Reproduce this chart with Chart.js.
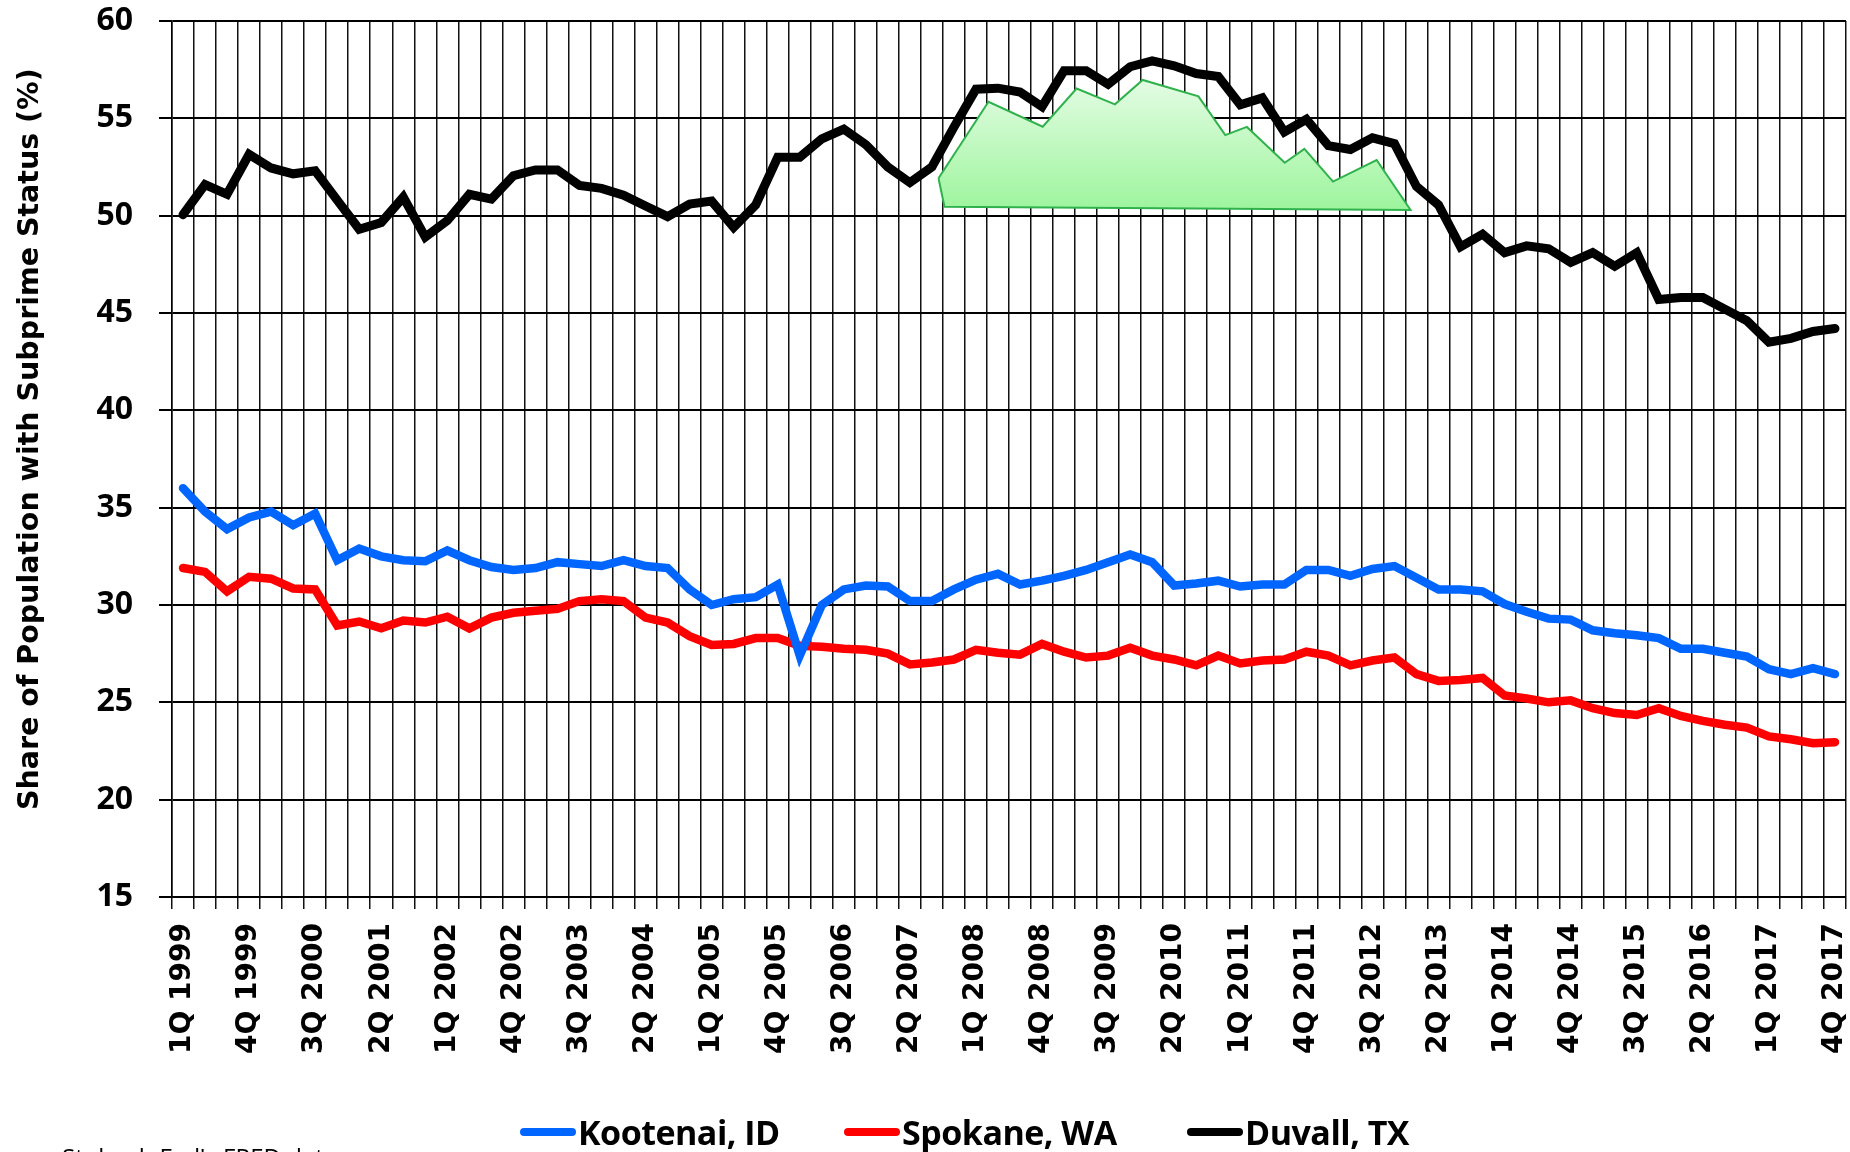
<!DOCTYPE html>
<html>
<head>
<meta charset="utf-8">
<title>Subprime share</title>
<script src="https://cdn.jsdelivr.net/npm/chart.js@4.4.1/dist/chart.umd.min.js"></script>
<style>
  html, body { margin: 0; padding: 0; background: #fff; overflow: hidden; }
  #wrap { position: relative; width: 1850px; height: 1152px; }
  #legend { position: absolute; left: 0; top: 0; }
  .item { position: absolute; top: 1115px; display: flex; align-items: center; height: 34px;
          font: 700 34px "Open Sans", sans-serif; line-height: 34px; color: #000; white-space: nowrap;
          letter-spacing: -0.5px; }
  .bar { width: 56px; height: 8px; border-radius: 4px; margin-right: 2px; }
  #note { position: absolute; left: 62px; top: 1145px; font: 24px "Open Sans", sans-serif; line-height: 1; color: #000; }
</style>
</head>
<body>
<div id="wrap">
  <canvas id="subprimeChart" width="1850" height="1152"></canvas>
  <div id="legend"></div>
  <div id="note">Stolen b Fed's FRED data</div>
</div>
<script>
/* ================= DATA ================= */
const years = [1999, 2000, 2001, 2002, 2003, 2004, 2005, 2006, 2007, 2008,
               2009, 2010, 2011, 2012, 2013, 2014, 2015, 2016, 2017];
const quarters = ["1Q", "2Q", "3Q", "4Q"];

const kootenai = [
  36.0, 34.8, 33.9, 34.5, 34.8, 34.1, 34.7, 32.3, 32.9, 32.5,
  32.3, 32.25, 32.8, 32.3, 31.95, 31.8, 31.9, 32.2, 32.1, 32.0,
  32.3, 32.0, 31.9, 30.8, 30.0, 30.3, 30.4, 31.05, 27.4, 30.0,
  30.8, 31.0, 30.95, 30.2, 30.2, 30.8, 31.3, 31.6, 31.05, 31.25,
  31.5, 31.8, 32.2, 32.6, 32.2, 31.0, 31.1, 31.25, 30.95, 31.05,
  31.05, 31.8, 31.8, 31.5, 31.85, 32.0, 31.4, 30.8, 30.8, 30.7,
  30.05, 29.65, 29.3, 29.25, 28.7, 28.55, 28.45, 28.3, 27.75, 27.75,
  27.55, 27.35, 26.7, 26.45, 26.75, 26.45
];

const spokane = [
  31.9, 31.7, 30.7, 31.45, 31.35, 30.85, 30.8, 28.95, 29.15, 28.8,
  29.2, 29.1, 29.4, 28.8, 29.35, 29.6, 29.7, 29.8, 30.2, 30.3,
  30.2, 29.35, 29.1, 28.4, 27.95, 28.0, 28.3, 28.3, 27.9, 27.85,
  27.75, 27.7, 27.5, 26.95, 27.05, 27.2, 27.7, 27.55, 27.45, 28.0,
  27.6, 27.3, 27.4, 27.8, 27.4, 27.2, 26.9, 27.4, 27.0, 27.15,
  27.2, 27.6, 27.4, 26.9, 27.15, 27.3, 26.45, 26.1, 26.15, 26.25,
  25.35, 25.2, 25.0, 25.1, 24.7, 24.45, 24.35, 24.7, 24.3, 24.05,
  23.85, 23.7, 23.25, 23.1, 22.9, 22.95
];

const duvall = [
  50.05, 51.6, 51.1, 53.15, 52.45, 52.15, 52.3, 50.8, 49.3, 49.65,
  50.95, 48.9, 49.75, 51.1, 50.85, 52.05, 52.35, 52.35, 51.55, 51.4,
  51.05, 50.5, 49.95, 50.6, 50.75, 49.4, 50.55, 53.0, 53.0, 53.95,
  54.45, 53.65, 52.5, 51.7, 52.5, 54.55, 56.5, 56.55, 56.35, 55.6,
  57.45, 57.45, 56.75, 57.65, 57.95, 57.7, 57.3, 57.15, 55.7, 56.05,
  54.3, 54.95, 53.6, 53.4, 54.0, 53.7, 51.5, 50.55, 48.4, 49.05,
  48.1, 48.45, 48.3, 47.6, 48.1, 47.4, 48.1, 45.7, 45.8, 45.8,
  45.2, 44.6, 43.5, 43.7, 44.05, 44.2
];

// green mountain shape pasted on the chart (x in quarter index units)
const shapeX = [34.30, 36.57, 39.03, 40.57, 42.31, 43.57, 46.10, 47.32, 48.30,
                50.02, 50.91, 52.21, 54.19, 55.73, 34.57, 34.30];
const shapeY = [51.92, 55.85, 54.57, 56.53, 55.72, 56.97, 56.13, 54.14, 54.56,
                52.72, 53.43, 51.75, 52.86, 50.29, 50.46, 51.92];

const seriesNames = ["Kootenai, ID", "Spokane, WA", "Duvall, TX"];
const seriesColors = ["#0066ff", "#ff0000", "#000000"];
const seriesWidths = [8.5, 8.5, 9];

/* ================= LABELS ================= */
const labels = [];
years.forEach(y => quarters.forEach(q => labels.push(q + " " + y)));

/* ================= CHART ================= */
const lineStyle = {
  pointRadius: 0,
  tension: 0,
  borderCapStyle: "round",
  borderJoinStyle: "miter",
  fill: false,
  xAxisID: "x"
};

const seriesData = [kootenai, spokane, duvall];
const datasets = seriesData.map((d, i) => ({
  ...lineStyle,
  label: seriesNames[i],
  data: d,
  borderWidth: seriesWidths[i],
  borderColor: seriesColors[i],
  backgroundColor: seriesColors[i]
}));

datasets.push({
  label: "shape",
  type: "line",
  xAxisID: "xs",
  data: shapeX.map((x, i) => ({ x: x, y: shapeY[i] })),
  borderColor: "#2fb24c",
  borderWidth: 2,
  pointRadius: 0,
  tension: 0,
  fill: "shape",
  backgroundColor: (c) => {
    const { chart } = c;
    if (!chart.chartArea) return "rgba(0,0,0,0)";
    const y = chart.scales.y;
    const g = chart.ctx.createLinearGradient(0, y.getPixelForValue(57), 0, y.getPixelForValue(50.3));
    g.addColorStop(0, "#e4fce4");
    g.addColorStop(1, "#9df59d");
    return g;
  }
});

const ctx = document.getElementById("subprimeChart");
const chart = new Chart(ctx, {
  type: "line",
  data: { labels: labels, datasets: datasets },
  options: {
    responsive: false,
    animation: false,
    layout: { padding: { left: 0, right: 4, top: 21, bottom: 0 } },
    plugins: {
      legend: { display: false },
      tooltip: { enabled: false }
    },
    scales: {
      x: {
        type: "category",
        offset: true,
        grid: { color: "#111", lineWidth: 1.5, offset: true, drawTicks: true, tickLength: 12 },
        border: { display: true, color: "#000", width: 2 },
        ticks: {
          autoSkip: false,
          minRotation: 90,
          maxRotation: 90,
          padding: 14,
          color: "#000",
          font: { family: "DejaVu Sans", weight: "bold", size: 28 },
          callback: (v, i) => (i % 3 === 0 ? labels[i] : "")
        },
        afterFit: (s) => { s.height = 255; s.paddingLeft = 0; s.paddingRight = 0; }
      },
      xs: {
        type: "linear",
        display: false,
        min: -0.5,
        max: 75.5
      },
      y: {
        min: 15,
        max: 60,
        grid: { color: "#000", lineWidth: 2, tickLength: 13 },
        border: { display: true, color: "#000", width: 1.5 },
        ticks: {
          stepSize: 5,
          padding: 26,
          color: "#000",
          font: { family: "Open Sans", weight: "bold", size: 32 }
        },
        title: {
          display: true,
          text: "    Share of Population with Subprime Status (%)",
          color: "#000",
          padding: { top: 13, bottom: 0 },
          font: { family: "DejaVu Sans", weight: "bold", size: 28.5 }
        },
        afterFit: (s) => { s.width = 172; s.paddingTop = 0; s.paddingBottom = 0; }
      }
    }
  }
});

/* ================= LEGEND ================= */
const legendEl = document.getElementById("legend");
const legendLeft = [520, 844, 1187];
seriesNames.forEach((name, i) => {
  const item = document.createElement("div");
  item.className = "item";
  item.style.left = legendLeft[i] + "px";
  const bar = document.createElement("span");
  bar.className = "bar";
  bar.style.background = seriesColors[i];
  const txt = document.createElement("span");
  txt.textContent = name;
  item.appendChild(bar);
  item.appendChild(txt);
  legendEl.appendChild(item);
});
</script>
</body>
</html>
